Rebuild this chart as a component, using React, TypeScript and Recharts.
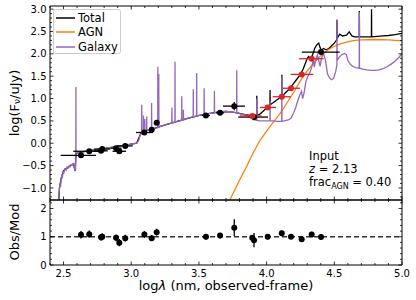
import React from 'react';
import {
  ComposedChart, Line, Scatter, XAxis, YAxis, ErrorBar, ReferenceLine, Customized, Legend,
} from 'recharts';

const FONT = '"DejaVu Sans", sans-serif';
const PURPLE = '#9467bd';
const ORANGE = '#ff7f0e';
const RED = '#d62728';

// ---------- model spectra: [log lambda, log F] ----------
const galaxySpec: number[][] = [
  [2.460, -1.6], [2.466, -1.15], [2.470, -1.0], [2.474, -0.92], [2.478, -0.98], [2.482, -0.80],
  [2.487, -0.72], [2.492, -0.75], [2.497, -0.64], [2.503, -0.66], [2.510, -0.58], [2.518, -0.60],
  [2.526, -0.53], [2.534, -0.55], [2.542, -0.50], [2.550, -0.52], [2.558, -0.48], [2.566, -0.49],
  [2.574, -0.46], [2.580, -0.50], [2.585, -0.62], [2.589, -0.58], [2.5905, -0.40], [2.5915, 1.26],
  [2.5925, -0.22], [2.600, -0.21], [2.620, -0.20], [2.640, -0.19], [2.660, -0.18], [2.680, -0.17],
  [2.700, -0.16], [2.720, -0.15], [2.740, -0.15], [2.760, -0.14], [2.780, -0.13], [2.800, -0.12],
  [2.820, -0.11], [2.840, -0.10], [2.860, -0.09], [2.880, -0.08], [2.900, -0.07], [2.920, -0.06],
  [2.940, -0.05], [2.960, -0.04], [2.980, -0.03], [3.000, -0.02], [3.020, -0.01], [3.040, 0.00],
  [3.055, 0.06], [3.068, 0.20],
  [3.0765, 0.24], [3.0775, 0.86], [3.0785, 0.26], [3.085, 0.27],
  [3.0895, 0.27], [3.0905, 0.62], [3.0915, 0.27],
  [3.0995, 0.28], [3.1005, 0.54], [3.1015, 0.28],
  [3.1135, 0.29], [3.1145, 0.60], [3.1155, 0.29], [3.130, 0.30],
  [3.1495, 0.31], [3.1505, 0.90], [3.1515, 0.31], [3.170, 0.33],
  [3.1955, 0.35], [3.1965, 1.71], [3.1975, 0.35],
  [3.2025, 0.36], [3.2035, 1.55], [3.2045, 0.36], [3.220, 0.38], [3.250, 0.41],
  [3.2995, 0.45], [3.3005, 0.80], [3.3015, 0.45],
  [3.3225, 0.47], [3.3235, 1.82], [3.3245, 0.47], [3.340, 0.49],
  [3.3725, 0.51], [3.3735, 1.05], [3.3745, 0.51],
  [3.3845, 0.52], [3.3855, 0.75], [3.3865, 0.52], [3.410, 0.55], [3.440, 0.58],
  [3.4575, 0.59], [3.4585, 1.21], [3.4595, 0.59],
  [3.4825, 0.61], [3.4835, 1.57], [3.4845, 0.61], [3.510, 0.63],
  [3.5375, 0.64], [3.5385, 1.23], [3.5395, 0.64], [3.570, 0.66],
  [3.6135, 0.68], [3.6145, 1.17], [3.6155, 0.68], [3.650, 0.70], [3.700, 0.71], [3.740, 0.70],
  [3.7785, 0.68], [3.7795, 1.63], [3.7805, 0.68], [3.800, 0.66], [3.830, 0.64], [3.860, 0.61],
  [3.880, 0.58], [3.900, 0.54],
  [3.9265, 0.51], [3.9275, 1.00], [3.9285, 0.51], [3.950, 0.50], [3.980, 0.50], [4.000, 0.50],
  [4.0245, 0.50], [4.0255, 0.95], [4.0265, 0.50], [4.050, 0.50], [4.080, 0.49], [4.100, 0.49],
  [4.1115, 0.49], [4.1125, 1.50], [4.1135, 0.49], [4.130, 0.50], [4.160, 0.52], [4.180, 0.56],
  [4.200, 0.68], [4.215, 0.80], [4.230, 0.95], [4.245, 1.08], [4.258, 1.16], [4.266, 1.00],
  [4.275, 1.10], [4.290, 1.38], [4.305, 1.50], [4.320, 1.58], [4.335, 1.72], [4.345, 1.88],
  [4.352, 1.70], [4.360, 1.82], [4.375, 1.98], [4.385, 1.85], [4.395, 1.72], [4.405, 1.90],
  [4.420, 2.01], [4.435, 1.85], [4.450, 1.55], [4.465, 1.46], [4.480, 1.42], [4.495, 1.45],
  [4.510, 1.60], [4.519, 1.75], [4.520, 2.76], [4.521, 1.85], [4.535, 1.92], [4.555, 1.98],
  [4.575, 2.01], [4.590, 1.98], [4.600, 1.85], [4.620, 1.76], [4.640, 1.71], [4.660, 1.69],
  [4.684, 1.68], [4.685, 2.93], [4.686, 1.68], [4.710, 1.66], [4.740, 1.64], [4.770, 1.63],
  [4.800, 1.63], [4.830, 1.64], [4.860, 1.67], [4.890, 1.71], [4.920, 1.77], [4.950, 1.84],
  [4.980, 1.93], [5.000, 2.01],
];

const totalSpec: number[][] = [
  [2.460, -1.6], [2.470, -1.0], [2.482, -0.80], [2.497, -0.64], [2.510, -0.58], [2.534, -0.55],
  [2.558, -0.48], [2.574, -0.46], [2.585, -0.62], [2.5925, -0.22], [2.700, -0.16], [2.800, -0.12],
  [2.900, -0.07], [3.000, -0.02], [3.040, 0.00], [3.068, 0.20], [3.085, 0.27], [3.130, 0.30],
  [3.170, 0.33], [3.250, 0.41], [3.340, 0.49], [3.410, 0.55], [3.510, 0.63], [3.570, 0.66],
  [3.650, 0.70], [3.700, 0.71], [3.740, 0.70], [3.800, 0.67], [3.840, 0.64], [3.880, 0.62],
  [3.910, 0.61], [3.9265, 0.61], [3.9275, 1.06], [3.9285, 0.62], [3.950, 0.65], [3.980, 0.73],
  [4.000, 0.80], [4.0245, 0.86], [4.0255, 1.19], [4.0265, 0.86], [4.050, 0.91], [4.080, 0.98],
  [4.100, 1.02], [4.1115, 1.05], [4.1125, 1.53], [4.1135, 1.06], [4.130, 1.10], [4.160, 1.19],
  [4.190, 1.30], [4.220, 1.42], [4.250, 1.54], [4.270, 1.66], [4.285, 1.78], [4.300, 1.90],
  [4.310, 1.94], [4.325, 1.89], [4.340, 1.98], [4.355, 2.12], [4.370, 2.20], [4.385, 2.24],
  [4.395, 2.14], [4.405, 2.08], [4.420, 2.12], [4.440, 2.09], [4.460, 2.12], [4.480, 2.18],
  [4.500, 2.24], [4.515, 2.30], [4.519, 2.32], [4.520, 2.76], [4.521, 2.35], [4.540, 2.44],
  [4.560, 2.40], [4.590, 2.42], [4.610, 2.49], [4.630, 2.40], [4.650, 2.38], [4.670, 2.38],
  [4.684, 2.38], [4.685, 2.96], [4.686, 2.38], [4.720, 2.38], [4.750, 2.38], [4.774, 2.38],
  [4.775, 3.00], [4.776, 2.38], [4.820, 2.39], [4.860, 2.40], [4.900, 2.41], [4.950, 2.43],
  [5.000, 2.46],
];

const agnSpec: number[][] = [
  [3.70, -1.45], [3.73, -1.26], [3.80, -0.83], [3.85, -0.53], [3.90, -0.22], [3.95, 0.06],
  [4.00, 0.27], [4.05, 0.47], [4.10, 0.67], [4.15, 0.90], [4.20, 1.14], [4.25, 1.40],
  [4.30, 1.62], [4.35, 1.80], [4.40, 1.96], [4.45, 2.08], [4.50, 2.17], [4.55, 2.23],
  [4.60, 2.27], [4.65, 2.30], [4.70, 2.31], [4.80, 2.32], [4.90, 2.31], [5.00, 2.29],
];

// ---------- photometry ----------
const obsX = [2.629, 2.69, 2.777, 2.786, 2.888, 2.912, 2.956, 3.097, 3.151, 3.188, 3.552, 3.656, 3.761, 3.907, 4.402];
const obsY = [-0.27, -0.18, -0.17, -0.13, -0.11, -0.18, -0.06, 0.24, 0.30, 0.46, 0.62, 0.68, 0.83, 0.585, 2.04];
const obsXLo = [0.15, 0.118, 0.05, 0.06, 0.04, 0.05, 0.063, 0.062, 0.02, 0.02, 0.03, 0.03, 0.083, 0.117, 0.142];
const obsXHi = [0.111, 0.074, 0.05, 0.06, 0.04, 0.05, 0.055, 0.063, 0.02, 0.02, 0.03, 0.03, 0.079, 0.103, 0.138];
const obsYErr = [0.05, 0.05, 0.04, 0.04, 0.04, 0.05, 0.04, 0.04, 0.04, 0.04, 0.03, 0.03, 0.09, 0.07, 0.03];

const redX = [3.894, 4.008, 4.112, 4.18, 4.259, 4.333];
const redY = [0.61, 0.80, 1.04, 1.23, 1.54, 1.89];
const redXLo = [0.091, 0.058, 0.067, 0.06, 0.081, 0.093];
const redXHi = [0.07, 0.062, 0.066, 0.067, 0.086, 0.087];
const redYErr = [0.03, 0.03, 0.03, 0.03, 0.03, 0.03];

const ratioX = [2.629, 2.69, 2.777, 2.786, 2.888, 2.912, 2.956, 3.097, 3.151, 3.188, 3.552, 3.656, 3.761, 3.894, 3.907, 4.008, 4.112, 4.18, 4.259, 4.333, 4.402];
const ratioY = [1.07, 1.09, 0.98, 1.0, 0.96, 0.79, 0.95, 1.08, 0.95, 1.16, 1.0, 1.04, 1.32, 0.96, 0.88, 1.0, 1.12, 1.0, 0.91, 1.08, 0.99];
const ratioErr = [0.13, 0.13, 0.12, 0.12, 0.12, 0.13, 0.12, 0.12, 0.1, 0.12, 0.1, 0.1, 0.3, 0.1, 0.25, 0.1, 0.1, 0.08, 0.08, 0.1, 0.1];

// ---------- ticks ----------
const xTicks = [2.4, 2.5, 2.6, 2.7, 2.8, 2.9, 3.0, 3.1, 3.2, 3.3, 3.4, 3.5, 3.6, 3.7, 3.8, 3.9, 4.0, 4.1, 4.2, 4.3, 4.4, 4.5, 4.6, 4.7, 4.8, 4.9, 5.0];
const xMajor = [2.5, 3.0, 3.5, 4.0, 4.5, 5.0];
const yTopTicks = [-1.2, -1.1, -1.0, -0.9, -0.8, -0.7, -0.6, -0.5, -0.4, -0.3, -0.2, -0.1, 0, 0.1, 0.2, 0.3, 0.4, 0.5, 0.6, 0.7, 0.8, 0.9, 1.0, 1.1, 1.2, 1.3, 1.4, 1.5, 1.6, 1.7, 1.8, 1.9, 2.0, 2.1, 2.2, 2.3, 2.4, 2.5, 2.6, 2.7, 2.8, 2.9, 3.0];
const yTopMajor = [-1.0, -0.5, 0, 0.5, 1.0, 1.5, 2.0, 2.5, 3.0];
const yBotTicks = [0, 0.2, 0.4, 0.6, 0.8, 1.0, 1.2, 1.4, 1.6, 1.8, 2.0, 2.2];
const yBotMajor = [0, 1, 2];

const X_DOMAIN = [2.4, 5.0];
const Y_TOP_DOMAIN = [-1.27, 3.07];
const Y_BOT_DOMAIN = [0, 2.3];

const toXY = (arr: number[][]) => arr.map(([x, y]) => ({ x, y }));
const galaxyData = toXY(galaxySpec);
const totalData = toXY(totalSpec);
const agnData = toXY(agnSpec);
const blackPts = obsX.map((x, i) => ({ x, y: obsY[i], ex: [obsXLo[i], obsXHi[i]], ey: obsYErr[i] }));
const redPts = redX.map((x, i) => ({ x, y: redY[i], ex: [redXLo[i], redXHi[i]], ey: redYErr[i] }));
const ratioPts = ratioX.map((x, i) => ({ x, y: ratioY[i], ey: ratioErr[i] }));

const fmt1 = (v: number) => (v < 0 ? '\u2212' + Math.abs(v).toFixed(1) : v.toFixed(1));
const fmt0 = (v: number) => String(Math.round(v));

type Side = 'bottom' | 'top' | 'left' | 'right';
const near = (arr: number[], v: number) => arr.some((a) => Math.abs(a - v) < 1e-6);
const makeTick = (side: Side, majors: number[], fmt?: (v: number) => string) => (props: any) => {
  const { x, y, payload } = props;
  const v = Number(payload.value);
  const major = near(majors, v);
  const len = major ? 3.5 : 2;
  let x2 = x;
  let y2 = y;
  if (side === 'bottom') y2 = y - len;
  if (side === 'top') y2 = y + len;
  if (side === 'left') x2 = x + len;
  if (side === 'right') x2 = x - len;
  let label = null;
  if (fmt && major) {
    label = side === 'bottom'
      ? <text x={x} y={y + 12} textAnchor="middle" fontSize={10} fontFamily={FONT} fill="#000">{fmt(v)}</text>
      : <text x={x - 3.5} y={y + 3.6} textAnchor="end" fontSize={10} fontFamily={FONT} fill="#000">{fmt(v)}</text>;
  }
  return (
    <g>
      <line x1={x} y1={y} x2={x2} y2={y2} stroke="#000" strokeWidth={0.8} />
      {label}
    </g>
  );
};

const Dot = (color: string) => (p: any) => <circle cx={p.cx} cy={p.cy} r={3} fill={color} />;

const LegendBox = () => (
  <svg width={68} height={45} style={{ display: 'block' }}>
    <rect x={0.5} y={0.5} width={67} height={44} rx={2} fill="#fff" fillOpacity={0.8} stroke="#cccccc" />
    <line x1={3} x2={22} y1={9} y2={9} stroke="#000" strokeWidth={1.5} />
    <text x={25} y={13} fontSize={11.5} fontFamily={FONT}>Total</text>
    <line x1={3} x2={22} y1={23} y2={23} stroke={ORANGE} strokeWidth={1.5} />
    <text x={25} y={27} fontSize={11.5} fontFamily={FONT}>AGN</text>
    <line x1={3} x2={22} y1={38} y2={38} stroke={PURPLE} strokeWidth={1.5} />
    <text x={25} y={42} fontSize={11.5} fontFamily={FONT}>Galaxy</text>
  </svg>
);

const TopText = () => (
  <g fontFamily={FONT} fill="#000">
    <text x={14} y={103} transform="rotate(-90 14 103)" textAnchor="middle" fontSize={13} dominantBaseline="central">
      <tspan>log(F</tspan>
      <tspan fontSize={9} dy={3}>ν</tspan>
      <tspan dy={-3}>/uJy)</tspan>
    </text>
    <text x={309} y={160} fontSize={11.5}>Input</text>
    <text x={309} y={172.5} fontSize={11.5}>
      <tspan fontStyle="italic">z</tspan>
      <tspan> = 2.13</tspan>
    </text>
    <text x={309} y={186} fontSize={11.5}>
      <tspan>frac</tspan>
      <tspan fontSize={8} dy={2.5}>AGN</tspan>
      <tspan dy={-2.5}> = 0.40</tspan>
    </text>
  </g>
);

// bottom chart svg starts at page y = 199
const BottomText = () => (
  <g fontFamily={FONT} fill="#000">
    <text x={14} y={33} transform="rotate(-90 14 33)" textAnchor="middle" fontSize={13} dominantBaseline="central">Obs/Mod</text>
    <text x={226} y={91} textAnchor="middle" fontSize={13}>
      <tspan>log</tspan>
      <tspan fontStyle="italic">λ</tspan>
      <tspan> (nm, observed-frame)</tspan>
    </text>
  </g>
);

const axisLine = { stroke: '#000', strokeWidth: 1 };

export default function App() {
  return (
    <div style={{ position: 'absolute', left: 0, top: 0, width: 416, height: 300, background: '#fff' }}>
      <div style={{ position: 'absolute', left: 0, top: 0 }}>
        <ComposedChart width={416} height={201} margin={{ top: 5, right: 13, bottom: 0, left: 0 }}>
          <XAxis xAxisId={0} dataKey="x" type="number" domain={X_DOMAIN} allowDataOverflow ticks={xTicks} interval={0}
            height={1} tickSize={0} tickMargin={0} tickLine={false} axisLine={axisLine} tick={makeTick('bottom', xMajor)} />
          <XAxis xAxisId="t" orientation="top" dataKey="x" type="number" domain={X_DOMAIN} allowDataOverflow ticks={xTicks} interval={0}
            height={1} tickSize={0} tickMargin={0} tickLine={false} axisLine={axisLine} tick={makeTick('top', xMajor)} />
          <YAxis yAxisId={0} type="number" domain={Y_TOP_DOMAIN} allowDataOverflow ticks={yTopTicks} interval={0}
            width={50} tickSize={0} tickMargin={0} tickLine={false} axisLine={axisLine} tick={makeTick('left', yTopMajor, fmt1)} />
          <YAxis yAxisId="r" orientation="right" type="number" domain={Y_TOP_DOMAIN} allowDataOverflow ticks={yTopTicks} interval={0}
            width={1} tickSize={0} tickMargin={0} tickLine={false} axisLine={axisLine} tick={makeTick('right', yTopMajor)} />
          <Line data={totalData} dataKey="y" stroke="#000" strokeWidth={1.3} dot={false} activeDot={false} isAnimationActive={false} type="linear" />
          <Line data={agnData} dataKey="y" stroke={ORANGE} strokeWidth={1.3} dot={false} activeDot={false} isAnimationActive={false} type="linear" />
          <Line data={galaxyData} dataKey="y" stroke={PURPLE} strokeWidth={1.3} dot={false} activeDot={false} isAnimationActive={false} type="linear" />
          <Scatter data={blackPts} dataKey="y" isAnimationActive={false} shape={Dot('#000')}>
            <ErrorBar dataKey="ex" direction="x" width={0} stroke="#000" strokeWidth={1.3} />
            <ErrorBar dataKey="ey" direction="y" width={0} stroke="#000" strokeWidth={1.3} />
          </Scatter>
          <Scatter data={redPts} dataKey="y" isAnimationActive={false} shape={Dot(RED)}>
            <ErrorBar dataKey="ex" direction="x" width={0} stroke={RED} strokeWidth={1.3} />
            <ErrorBar dataKey="ey" direction="y" width={0} stroke={RED} strokeWidth={1.3} />
          </Scatter>
          <Customized component={TopText} />
          <Legend layout="vertical" align="center" verticalAlign="middle" content={LegendBox}
            wrapperStyle={{ left: 53, top: 9, width: 68, height: 45 }} />
        </ComposedChart>
      </div>
      <div style={{ position: 'absolute', left: 0, top: 199 }}>
        <ComposedChart width={416} height={101} margin={{ top: 0, right: 13, bottom: 34, left: 0 }}>
          <XAxis xAxisId={0} dataKey="x" type="number" domain={X_DOMAIN} allowDataOverflow ticks={xTicks} interval={0}
            height={1} tickSize={0} tickMargin={0} tickLine={false} axisLine={axisLine} tick={makeTick('bottom', xMajor, fmt1)} />
          <XAxis xAxisId="t" orientation="top" dataKey="x" type="number" domain={X_DOMAIN} allowDataOverflow ticks={xTicks} interval={0}
            height={1} tickSize={0} tickMargin={0} tickLine={false} axisLine={axisLine} tick={makeTick('top', xMajor)} />
          <YAxis yAxisId={0} type="number" domain={Y_BOT_DOMAIN} allowDataOverflow ticks={yBotTicks} interval={0}
            width={50} tickSize={0} tickMargin={0} tickLine={false} axisLine={axisLine} tick={makeTick('left', yBotMajor, fmt0)} />
          <YAxis yAxisId="r" orientation="right" type="number" domain={Y_BOT_DOMAIN} allowDataOverflow ticks={yBotTicks} interval={0}
            width={1} tickSize={0} tickMargin={0} tickLine={false} axisLine={axisLine} tick={makeTick('right', yBotMajor)} />
          <ReferenceLine y={1} stroke="#333" strokeWidth={1.5} strokeDasharray="5 3" />
          <Scatter data={ratioPts} dataKey="y" isAnimationActive={false} shape={Dot('#000')}>
            <ErrorBar dataKey="ey" direction="y" width={0} stroke="#000" strokeWidth={1.3} />
          </Scatter>
          <Customized component={BottomText} />
        </ComposedChart>
      </div>
    </div>
  );
}
